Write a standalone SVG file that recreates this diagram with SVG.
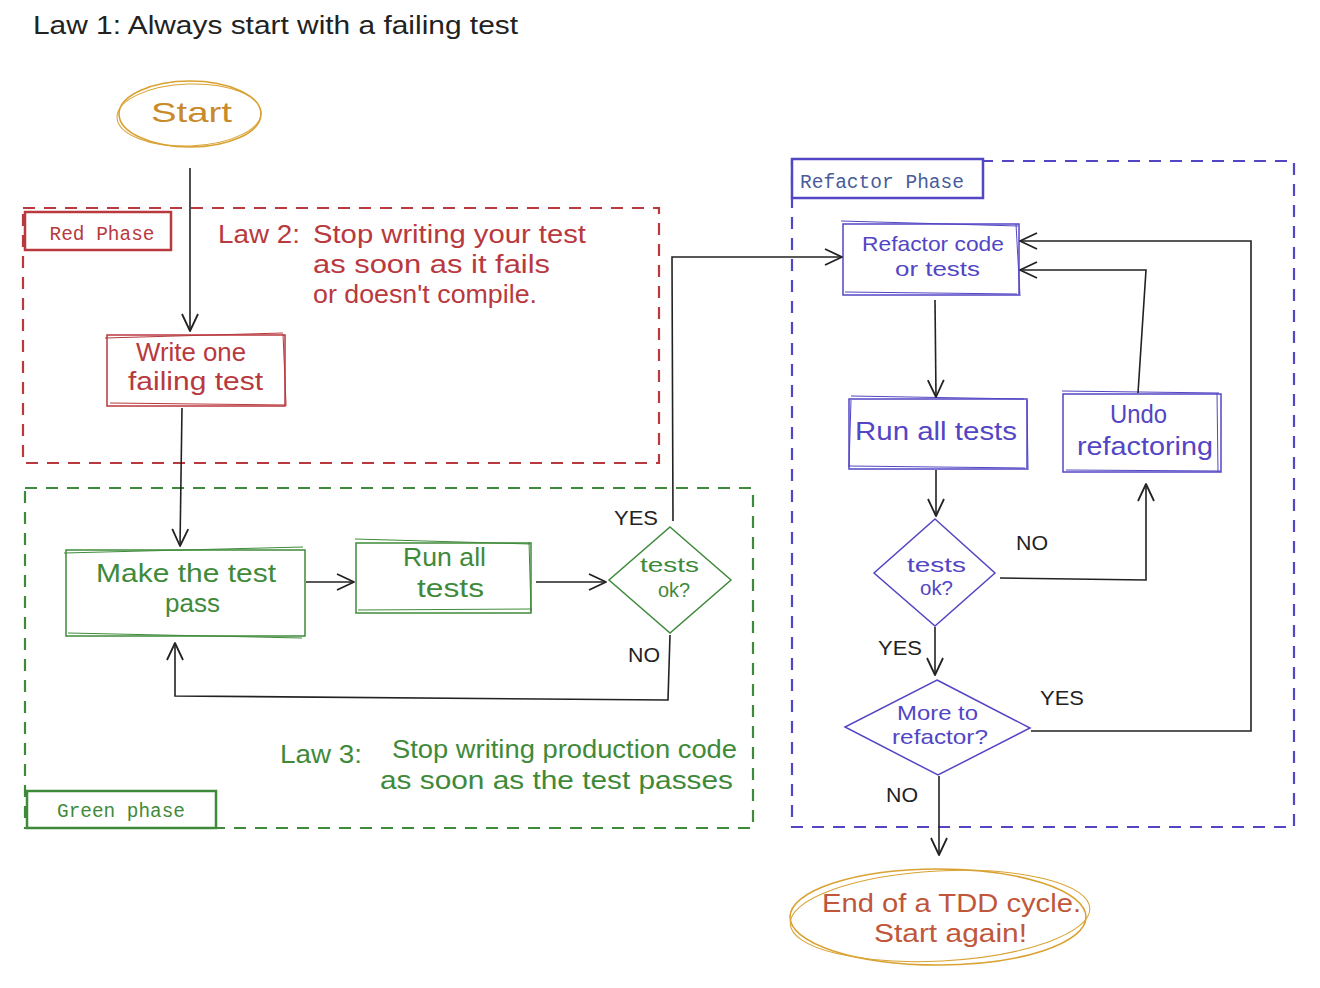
<svg xmlns="http://www.w3.org/2000/svg" width="1320" height="988" viewBox="0 0 1320 988">
<defs>
<marker id="arr" viewBox="0 0 20 20" refX="19" refY="10" markerWidth="20" markerHeight="20" markerUnits="userSpaceOnUse" orient="auto">
<path d="M2,2 L19,10 L2,18" fill="none" stroke="#222" stroke-width="1.8" stroke-linejoin="round"/>
</marker>
<style>
text{font-family:"Liberation Sans","DejaVu Sans",sans-serif;text-anchor:middle}
.hand{font-size:25px}
.sm{font-size:21px}
.mono{font-family:"Liberation Mono","DejaVu Sans Mono",monospace;font-size:19.5px}
.black{fill:#222}
.red{fill:#b8393e}
.green{fill:#3f8a3a}
.purple{fill:#5346c4}
.orange{fill:#c98a2a}
.rs{stroke:#b8393e;fill:none}
.gs{stroke:#3f8a3a;fill:none}
.ps{stroke:#5346c4;fill:none}
.os{stroke:#d9a232;fill:none}
.dash{stroke-width:2.2;stroke-dasharray:12 9}
.box{stroke-width:1.5}
.thin{stroke-width:1}
.conn{stroke:#222;stroke-width:1.6;fill:none}
</style>
</defs>
<rect width="1320" height="988" fill="#fff"/>

<text x="33" y="34" class="black" style="font-size:26px;text-anchor:start" textLength="485" lengthAdjust="spacingAndGlyphs">Law 1: Always start with a failing test</text>

<g id="red-phase">
<rect x="23" y="208" width="636" height="255" class="rs dash"/>
<rect x="25" y="212" width="146" height="38" class="rs" stroke-width="2.5"/>
<text x="102" y="240" class="mono red" textLength="105" lengthAdjust="spacingAndGlyphs">Red Phase</text>
<text x="218" y="243" class="hand red" style="text-anchor:start" textLength="82" lengthAdjust="spacingAndGlyphs">Law 2:</text>
<text x="313" y="243" class="hand red" style="text-anchor:start" textLength="273" lengthAdjust="spacingAndGlyphs">Stop writing your test</text>
<text x="313" y="273" class="hand red" style="text-anchor:start" textLength="237" lengthAdjust="spacingAndGlyphs">as soon as it fails</text>
<text x="313" y="303" class="hand red" style="text-anchor:start" textLength="224" lengthAdjust="spacingAndGlyphs">or doesn't compile.</text>
</g>

<g id="green-phase">
<rect x="25" y="488" width="728" height="340" class="gs dash"/>
<rect x="27" y="791" width="189" height="37" class="gs" stroke-width="2.5"/>
<text x="121" y="817" class="mono green" textLength="128" lengthAdjust="spacingAndGlyphs">Green phase</text>
<text x="280" y="763" class="hand green" style="text-anchor:start" textLength="82" lengthAdjust="spacingAndGlyphs">Law 3:</text>
<text x="392" y="758" class="hand green" style="text-anchor:start" textLength="345" lengthAdjust="spacingAndGlyphs">Stop writing production code</text>
<text x="380" y="789" class="hand green" style="text-anchor:start" textLength="353" lengthAdjust="spacingAndGlyphs">as soon as the test passes</text>
</g>

<g id="refactor-phase">
<rect x="792" y="161" width="502" height="666" class="ps dash"/>
<rect x="792" y="159" width="191" height="39" class="ps" stroke-width="2.5" style="fill:#fff"/>
<text x="882" y="188" class="mono" style="fill:#4a5b9c" textLength="164" lengthAdjust="spacingAndGlyphs">Refactor Phase</text>
</g>

<g id="start">
<ellipse cx="190" cy="114" rx="71" ry="33" class="os" stroke-width="1.6"/>
<ellipse cx="189" cy="115" rx="72" ry="31" class="os thin" transform="rotate(-2 189 115)"/>
<text x="191.5" y="122" class="orange" style="font-size:28px" textLength="81" lengthAdjust="spacingAndGlyphs">Start</text>
</g>

<g id="write-failing-test">
<rect x="107" y="335" width="178" height="71" class="rs box"/>
<path d="M105,338 L283,333 M110,403 L287,405 M283,334 L286,404" class="rs thin"/>
<text x="191" y="361" class="hand red" textLength="110" lengthAdjust="spacingAndGlyphs">Write one</text>
<text x="195.5" y="390" class="hand red" textLength="135" lengthAdjust="spacingAndGlyphs">failing test</text>
</g>

<g id="make-test-pass">
<rect x="66" y="550" width="239" height="86" class="gs box"/>
<path d="M64,553 L303,547 M68,633 L302,638" class="gs thin"/>
<text x="186" y="582" class="hand green" textLength="180" lengthAdjust="spacingAndGlyphs">Make the test</text>
<text x="192.5" y="612" class="hand green" textLength="55" lengthAdjust="spacingAndGlyphs">pass</text>
</g>

<g id="run-all-tests-green">
<rect x="356" y="543" width="175" height="70" class="gs box"/>
<path d="M355,539 L530,544 M358,610 L532,609 M529,542 L531,612" class="gs thin"/>
<text x="444.5" y="566" class="hand green" textLength="83" lengthAdjust="spacingAndGlyphs">Run all</text>
<text x="450.5" y="597" class="hand green" textLength="67" lengthAdjust="spacingAndGlyphs">tests</text>
</g>

<g id="tests-ok-green">
<path d="M670,527 L731,580 L670,633 L609,580 Z" class="gs box"/>
<text x="669.5" y="572" class="green sm" textLength="59" lengthAdjust="spacingAndGlyphs">tests</text>
<text x="674" y="597" class="green sm" textLength="32" lengthAdjust="spacingAndGlyphs">ok?</text>
</g>

<g id="refactor-code">
<rect x="843" y="224" width="176" height="71" class="ps box"/>
<path d="M841,221 L1018,226 M845,292 L1017,294 M1016,224 L1020,296" class="ps thin"/>
<text x="933" y="251" class="purple sm" textLength="142" lengthAdjust="spacingAndGlyphs">Refactor code</text>
<text x="937.5" y="276" class="purple sm" textLength="85" lengthAdjust="spacingAndGlyphs">or tests</text>
</g>

<g id="run-all-tests-refactor">
<rect x="849" y="399" width="178" height="70" class="ps box"/>
<path d="M851,396 L1024,399 M849,466 L1025,468 M1027,400 L1028,470 M851,400 L849,467" class="ps thin"/>
<text x="936" y="440" class="hand purple" textLength="162" lengthAdjust="spacingAndGlyphs">Run all tests</text>
</g>

<g id="undo-refactoring">
<rect x="1063" y="394" width="158" height="78" class="ps box"/>
<path d="M1062,391 L1219,393 M1066,470 L1220,471 M1217,393 L1218,472" class="ps thin"/>
<text x="1138.5" y="423" class="hand purple" textLength="57" lengthAdjust="spacingAndGlyphs">Undo</text>
<text x="1145" y="455" class="hand purple" textLength="136" lengthAdjust="spacingAndGlyphs">refactoring</text>
</g>

<g id="tests-ok-refactor">
<path d="M935,519 L995,573 L935,626 L874,573 Z" class="ps box"/>
<text x="936.5" y="572" class="purple sm" textLength="59" lengthAdjust="spacingAndGlyphs">tests</text>
<text x="936.5" y="595" class="purple sm" textLength="33" lengthAdjust="spacingAndGlyphs">ok?</text>
</g>

<g id="more-to-refactor">
<path d="M937,680 L1030,728 L938,775 L845,727 Z" class="ps box"/>
<text x="937.5" y="720" class="purple sm" textLength="81" lengthAdjust="spacingAndGlyphs">More to</text>
<text x="940" y="744" class="purple sm" textLength="96" lengthAdjust="spacingAndGlyphs">refactor?</text>
</g>

<g id="end">
<ellipse cx="938" cy="917" rx="148" ry="48" class="os" stroke-width="1.6"/>
<ellipse cx="940" cy="916" rx="150" ry="45" class="os thin" transform="rotate(-3 940 916)"/>
<text x="951.5" y="912" class="hand" style="fill:#c0573a" textLength="259" lengthAdjust="spacingAndGlyphs">End of a TDD cycle.</text>
<text x="950.5" y="942" class="hand" style="fill:#c0573a" textLength="153" lengthAdjust="spacingAndGlyphs">Start again!</text>
</g>

<g id="connectors">
<path d="M190,168 L190,331" class="conn" marker-end="url(#arr)"/>
<path d="M182,408 L180,546" class="conn" marker-end="url(#arr)"/>
<path d="M306,582 L354,582" class="conn" marker-end="url(#arr)"/>
<path d="M536,582 L606,582" class="conn" marker-end="url(#arr)"/>
<path d="M673,521 L672,257 L842,257" class="conn" marker-end="url(#arr)"/>
<path d="M670,635 L668,700 L175,696 L175,643" class="conn" marker-end="url(#arr)"/>
<path d="M935,300 L936,397" class="conn" marker-end="url(#arr)"/>
<path d="M936,470 L936,516" class="conn" marker-end="url(#arr)"/>
<path d="M1000,578 L1146,580 L1146,484" class="conn" marker-end="url(#arr)"/>
<path d="M1138,393 L1146,270 L1020,270" class="conn" marker-end="url(#arr)"/>
<path d="M935,627 L935,675" class="conn" marker-end="url(#arr)"/>
<path d="M1031,731 L1251,731 L1251,241 L1020,241" class="conn" marker-end="url(#arr)"/>
<path d="M939,776 L939,855" class="conn" marker-end="url(#arr)"/>
<text x="636" y="525" class="black" style="font-size:21px" textLength="44" lengthAdjust="spacingAndGlyphs">YES</text>
<text x="644" y="662" class="black" style="font-size:21px" textLength="32" lengthAdjust="spacingAndGlyphs">NO</text>
<text x="1032" y="550" class="black" style="font-size:21px" textLength="32" lengthAdjust="spacingAndGlyphs">NO</text>
<text x="900" y="655" class="black" style="font-size:21px" textLength="44" lengthAdjust="spacingAndGlyphs">YES</text>
<text x="1062" y="705" class="black" style="font-size:21px" textLength="44" lengthAdjust="spacingAndGlyphs">YES</text>
<text x="902" y="802" class="black" style="font-size:21px" textLength="32" lengthAdjust="spacingAndGlyphs">NO</text>
</g>
</svg>
